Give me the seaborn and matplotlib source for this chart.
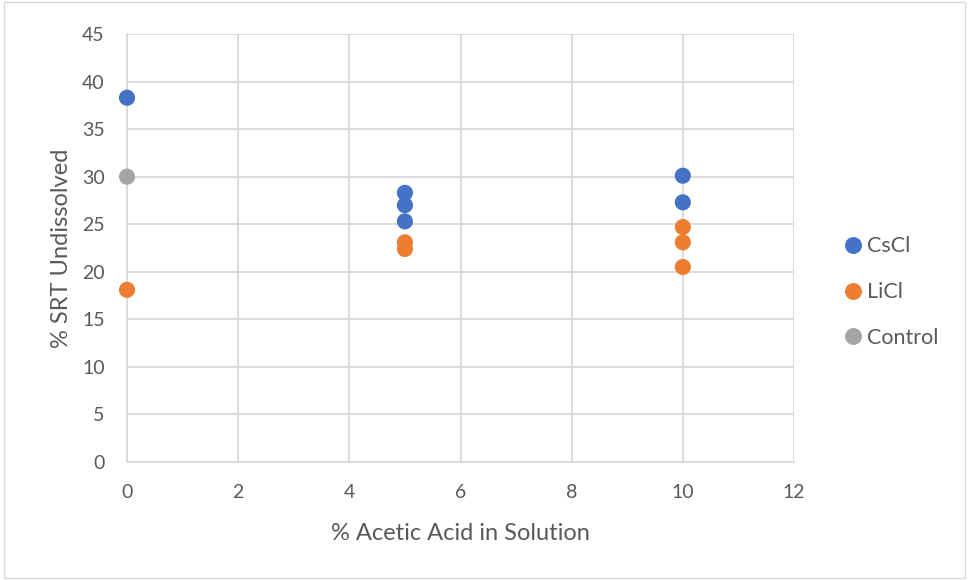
import matplotlib
matplotlib.use("Agg")
import matplotlib.pyplot as plt
import seaborn as sns
import pandas as pd
from matplotlib.patches import Rectangle

# Percent acetic acid in solution and percent SRT left undissolved
cscl_x = [0, 5, 5, 5, 10, 10]
cscl_y = [38.3, 28.3, 27.0, 25.3, 30.1, 27.3]
licl_x = [0, 5, 5, 10, 10, 10]
licl_y = [18.1, 23.1, 22.4, 24.7, 23.1, 20.5]
control_x = [0]
control_y = [30.0]

series_names = ["CsCl", "LiCl", "Control"]
series_colors = ["#4472C4", "#ED7D31", "#A5A5A5"]
x_ticks = [0, 2, 4, 6, 8, 10, 12]
y_ticks = [0, 5, 10, 15, 20, 25, 30, 35, 40, 45]

df = pd.concat([
    pd.DataFrame({"x": cscl_x, "y": cscl_y, "series": "CsCl"}),
    pd.DataFrame({"x": licl_x, "y": licl_y, "series": "LiCl"}),
    pd.DataFrame({"x": control_x, "y": control_y, "series": "Control"}),
], ignore_index=True)

sns.set_style("white")
plt.rcParams["font.family"] = ["Lato", "DejaVu Sans"]
text_color = "#595959"
grid_color = "#D9D9D9"

fig = plt.figure(figsize=(9.69, 5.80), dpi=100)
ax = fig.add_axes([127 / 969, 1 - 462 / 580, (794 - 127) / 969, (462 - 34) / 580])

sns.scatterplot(data=df, x="x", y="y", hue="series", hue_order=series_names,
                palette=series_colors, s=135, edgecolor="none", ax=ax,
                zorder=3, clip_on=False)

ax.set_xlim(0, 12)
ax.set_ylim(0, 45)
ax.set_xticks(x_ticks)
ax.set_yticks(y_ticks)
ax.grid(True, color=grid_color, linewidth=1.3)
ax.set_axisbelow(True)
for side in ["top", "right"]:
    ax.spines[side].set_visible(False)
for side in ["left", "bottom"]:
    ax.spines[side].set_color(grid_color)
    ax.spines[side].set_linewidth(1.3)
ax.tick_params(axis="both", length=0, labelsize=14, labelcolor=text_color)
ax.tick_params(axis="y", pad=16)
ax.tick_params(axis="x", pad=16)

ax.set_xlabel("% Acetic Acid in Solution", fontsize=17, color=text_color, labelpad=16)
ax.set_ylabel("% SRT Undissolved", fontsize=17, color=text_color, labelpad=7)

leg = ax.legend(loc="center left", bbox_to_anchor=(1.027, 0.397), frameon=False,
                fontsize=15.5, handletextpad=-0.35, labelspacing=1.2, markerscale=1.05)
for t in leg.get_texts():
    t.set_color(text_color)

fig.patches.append(Rectangle((0.004, 0.004), 0.992, 0.992, transform=fig.transFigure,
                             fill=False, edgecolor="#D9D9D9", linewidth=1))

fig.savefig("out.png", dpi=100)
